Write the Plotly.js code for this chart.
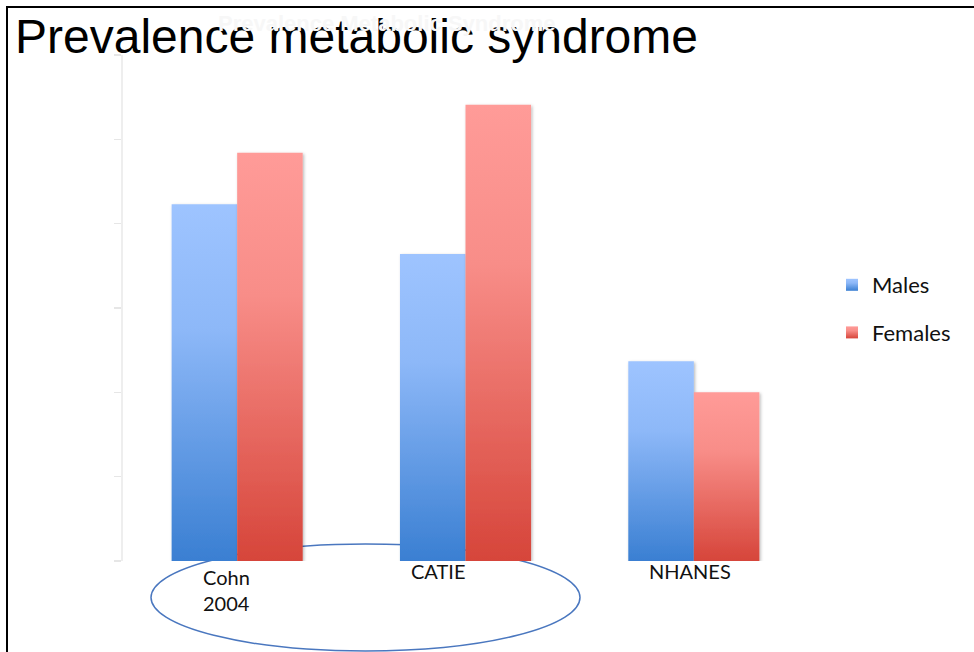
<!DOCTYPE html>
<html>
<head>
<meta charset="utf-8">
<script src="https://cdn.plot.ly/plotly-3.0.1.min.js"></script>
<style>
  html, body { margin: 0; padding: 0; background: #ffffff; }
  #chart { width: 974px; height: 652px; }
</style>
</head>
<body>
<div id="chart"></div>
<script>
// Prevalence of metabolic syndrome (%) by study and sex
const studies = ['Cohn 2004', 'CATIE', 'NHANES'];
const studyLabels = ['Cohn<br>2004', 'CATIE', 'NHANES'];
const males = [42.3, 36.4, 23.7];
const females = [48.4, 54.1, 20.0];
const yTicks = [0, 10, 20, 30, 40, 50, 60];

const W = 974, H = 652;
const M = { l: 123, r: 166, t: 55, b: 91 };
const PW = W - M.l - M.r, PH = H - M.t - M.b;
// pixel -> paper helpers for decorations
const px = v => (v - M.l) / PW;
const py = v => (H - M.b - v) / PH;

const labelFont = { family: 'Lato, "Open Sans", sans-serif', size: 20, color: '#111111' };

const traces = [
  { type: 'bar', name: 'Males', x: studies, y: males, legendgroup: 'm',
    marker: { color: '#6FA3EC', line: { width: 0 } } },
  { type: 'bar', name: 'Females', x: studies, y: females, legendgroup: 'f',
    marker: { color: '#EC716B', line: { width: 0 } } }
];

// label placement under each group (offsets from the category centre)
const labelShift = [
  { xanchor: 'left', xshift: -36, yshift: -2 },
  { xanchor: 'center', xshift: -28, yshift: 4 },
  { xanchor: 'center', xshift: -4, yshift: 4 }
];

const annotations = studies.map((s, i) => ({
  x: s, xref: 'x', y: 0, yref: 'paper',
  text: studyLabels[i], showarrow: false, align: 'left',
  xanchor: labelShift[i].xanchor, yanchor: 'top',
  xshift: labelShift[i].xshift, yshift: labelShift[i].yshift,
  font: labelFont
}));

// faint residual heading sitting behind the main title
annotations.push({
  xref: 'paper', yref: 'paper', x: px(216), y: py(9),
  xanchor: 'left', yanchor: 'top', showarrow: false,
  text: '<b>Prevalence Metabolic Syndrome</b>',
  font: { family: 'Liberation Sans, Arial, sans-serif', size: 22, color: '#f7f7f7' }
});

const layout = {
  width: W, height: H,
  margin: M,
  paper_bgcolor: '#ffffff',
  plot_bgcolor: 'rgba(0,0,0,0)',
  title: {
    text: 'Prevalence metabolic syndrome',
    font: { family: 'Liberation Sans, Arial, sans-serif', size: 48, color: '#000000' },
    xref: 'container', yref: 'container',
    x: 15 / W, xanchor: 'left',
    y: 1 - 36 / H, yanchor: 'middle'
  },
  barmode: 'group',
  bargap: 0.426,
  bargroupgap: 0,
  xaxis: {
    type: 'category', range: [-0.5, 2.5],
    showticklabels: false, ticks: '', showline: false, showgrid: false, zeroline: false
  },
  yaxis: {
    range: [0, 60], tickvals: yTicks, showticklabels: false,
    ticks: 'outside', ticklen: 7, tickwidth: 1.5, tickcolor: '#e6e6e6',
    showline: true, linecolor: '#eeeeee', linewidth: 2,
    showgrid: false, zeroline: false
  },
  showlegend: true,
  legend: {
    xref: 'container', yref: 'container',
    x: 832 / W, xanchor: 'left',
    y: 1 - 264 / H, yanchor: 'top',
    font: { family: 'Lato, "Open Sans", sans-serif', size: 22, color: '#111111' },
    traceorder: 'grouped', tracegroupgap: 16,
    bgcolor: 'rgba(0,0,0,0)', borderwidth: 0, itemwidth: 30
  },
  annotations: annotations,
  shapes: [
    // frame: top and left edges
    { type: 'line', xref: 'paper', yref: 'paper', x0: px(6), x1: px(W + 2), y0: py(7), y1: py(7),
      line: { color: '#000000', width: 2 } },
    { type: 'line', xref: 'paper', yref: 'paper', x0: px(7), x1: px(7), y0: py(6), y1: py(H + 2),
      line: { color: '#000000', width: 2 } },
    // ring around the two antipsychotic cohorts
    { type: 'circle', xref: 'paper', yref: 'paper', layer: 'below',
      x0: px(151), x1: px(580), y0: py(544), y1: py(651),
      line: { color: '#4A77BF', width: 1.5 } }
  ]
};

const el = document.getElementById('chart');
Plotly.newPlot(el, traces, layout, { staticPlot: true, displayModeBar: false }).then(gd => {
  const NS = 'http://www.w3.org/2000/svg';
  const svg = gd.querySelector('svg.main-svg');
  let defs = svg.querySelector('defs');
  if (!defs) { defs = document.createElementNS(NS, 'defs'); svg.insertBefore(defs, svg.firstChild); }

  function addGradient(id, stops) {
    const g = document.createElementNS(NS, 'linearGradient');
    g.setAttribute('id', id);
    g.setAttribute('x1', '0'); g.setAttribute('y1', '0');
    g.setAttribute('x2', '0'); g.setAttribute('y2', '1');
    stops.forEach(([o, c]) => {
      const s = document.createElementNS(NS, 'stop');
      s.setAttribute('offset', o);
      s.setAttribute('stop-color', c);
      g.appendChild(s);
    });
    defs.appendChild(g);
  }
  addGradient('gradMales', [[0, '#9EC4FF'], [0.35, '#8DB8F8'], [1, '#3A7FD2']]);
  addGradient('gradFemales', [[0, '#FF9B98'], [0.35, '#F88D88'], [1, '#D6453A']]);

  const f = document.createElementNS(NS, 'filter');
  f.setAttribute('id', 'barShadow');
  f.setAttribute('x', '-20%'); f.setAttribute('y', '-10%');
  f.setAttribute('width', '140%'); f.setAttribute('height', '120%');
  const ds = document.createElementNS(NS, 'feDropShadow');
  ds.setAttribute('dx', '1.2'); ds.setAttribute('dy', '1.2');
  ds.setAttribute('stdDeviation', '1.6');
  ds.setAttribute('flood-color', '#000000');
  ds.setAttribute('flood-opacity', '0.28');
  f.appendChild(ds);
  defs.appendChild(f);

  const gradIds = ['gradMales', 'gradFemales'];

  gd.querySelectorAll('.barlayer .trace').forEach(t => {
    const idx = t.__data__ && t.__data__[0] ? t.__data__[0].trace.index : 0;
    t.querySelectorAll('path').forEach(p => {
      p.style.fill = 'url(#' + gradIds[idx] + ')';
      p.setAttribute('filter', 'url(#barShadow)');
    });
  });

  gd.querySelectorAll('.legend .traces').forEach(t => {
    const idx = t.__data__ && t.__data__[0] ? t.__data__[0].trace.index : 0;
    t.querySelectorAll('.legendpoints path').forEach(p => {
      p.style.fill = 'url(#' + gradIds[idx] + ')';
    });
  });
});
</script>
</body>
</html>
